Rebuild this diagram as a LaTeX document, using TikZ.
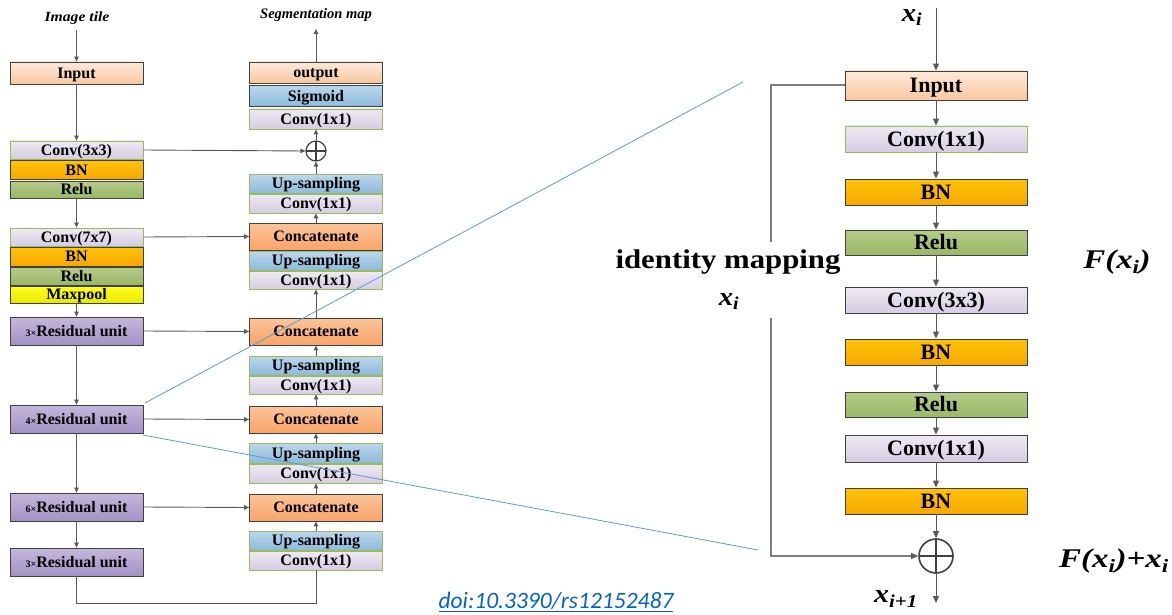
\documentclass[tikz,border=0pt]{standalone}
\usepackage{fontspec}
\usepackage{graphicx}
\setmainfont{Liberation Serif}
\newfontfamily\doifont{Carlito}
\usetikzlibrary{arrows.meta}
\definecolor{peachT}{HTML}{FDEADA}
\definecolor{peachB}{HTML}{F8C7A0}
\definecolor{lavT}{HTML}{EEEAF3}
\definecolor{lavB}{HTML}{D5CCE2}
\definecolor{convbd}{HTML}{9BBB59}
\definecolor{orT}{HTML}{FFC20A}
\definecolor{orB}{HTML}{F7A800}
\definecolor{grT}{HTML}{B5CB8A}
\definecolor{grB}{HTML}{9AB865}
\definecolor{yeT}{HTML}{FFFF20}
\definecolor{yeB}{HTML}{E8E800}
\definecolor{puT}{HTML}{C4B8DB}
\definecolor{puB}{HTML}{A391C4}
\definecolor{caT}{HTML}{FBC49A}
\definecolor{caB}{HTML}{F9A468}
\definecolor{blT}{HTML}{BCD7EC}
\definecolor{blB}{HTML}{8DBADB}
\definecolor{bd}{HTML}{404040}
\definecolor{ln}{HTML}{595959}
\definecolor{idl}{HTML}{7F7F7F}
\definecolor{zoomblue}{HTML}{5B9BD5}
\definecolor{doiblue}{HTML}{0563C1}
\newcommand{\smn}[1]{{\fontsize{10}{10}\selectfont #1×}}
\newcommand{\xs}[1]{{\bfseries\itshape x\textsubscript{#1}}}
\newcommand{\wide}[2]{\scalebox{#1}[1]{#2}}
\tikzset{
  box/.style={draw=bd, line width=0.8pt, inner sep=0pt},
  L/.style={box, minimum width=133pt, text height=10.6pt, text depth=0pt, font=\fontsize{16}{16}\selectfont\bfseries},
  R/.style={box, minimum width=182pt, text height=14.5pt, text depth=0pt, font=\fontsize{22}{22}\selectfont\bfseries},
  peach/.style={top color=peachT, bottom color=peachB},
  lav/.style={top color=lavT, bottom color=lavB, draw=convbd},
  lavg/.style={top color=lavT, bottom color=lavB},
  orng/.style={top color=orT, bottom color=orB},
  grn/.style={top color=grT, bottom color=grB},
  yel/.style={top color=yeT, bottom color=yeB},
  purp/.style={top color=puT, bottom color=puB},
  cat/.style={top color=caT, bottom color=caB},
  blu/.style={top color=blT, bottom color=blB, draw=convbd},
  arr/.style={draw=ln, line width=0.9pt, -{Triangle[length=5pt,width=4.5pt]}},
  arrR/.style={draw=ln, line width=1pt, -{Triangle[length=7pt,width=6pt]}},
  lnk/.style={draw=ln, line width=0.9pt},
  oplus/.style={circle, draw=bd, inner sep=0pt, path picture={\draw[bd, line width=1.3pt] (path picture bounding box.north) -- (path picture bounding box.south) (path picture bounding box.west) -- (path picture bounding box.east);}},
  idline/.style={draw=idl, line width=2pt},
  zoomline/.style={draw=zoomblue, line width=0.8pt},
  lbl/.style={inner sep=0pt}
}
\begin{document}
\begin{tikzpicture}[x=1pt,y=-1pt]
\useasboundingbox (0,0) rectangle (1172,615);
% ---------- left column ----------
\node[lbl, font=\fontsize{14}{14}\selectfont\bfseries\itshape] (imgtile) at (77,18) {\wide{1.12}{Image tile}};
\coordinate (imgtop) at (76.5,30);
\node[L,peach,minimum height=22pt] (inL) at (76.5,73) {Input};
\node[L,lav,minimum height=18pt] (c33) at (76.5,150) {Conv(3x3)};
\node[L,orng,minimum height=19pt] (bn1) at (76.5,170) {BN};
\node[L,grn,minimum height=17pt] (re1) at (76.5,189.5) {Relu};
\node[L,lav,minimum height=18pt] (c77) at (76.5,237) {Conv(7x7)};
\node[L,orng,minimum height=19pt] (bn2) at (76.5,256.5) {BN};
\node[L,grn,minimum height=18pt] (re2) at (76.5,276) {Relu};
\node[L,yel,minimum height=17pt] (mp) at (76.5,294.5) {Maxpool};
\node[L,purp,minimum height=28pt] (r3) at (76.5,331) {\smn{3}Residual unit};
\node[L,purp,minimum height=28pt] (r4) at (76.5,419) {\smn{4}Residual unit};
\node[L,purp,minimum height=28pt] (r6) at (76.5,507) {\smn{6}Residual unit};
\node[L,purp,minimum height=28pt] (r3b) at (76.5,562) {\smn{3}Residual unit};
% ---------- right column ----------
\node[lbl, font=\fontsize{14.5}{14.5}\selectfont\bfseries\itshape] (segmap) at (316,15) {Segmentation map};
\coordinate (segtop) at (316,29);
\node[L,peach,minimum height=21pt] (out) at (316,72.5) {output};
\node[L,blu,draw=bd,minimum height=21pt] (sig) at (316,96) {Sigmoid};
\node[L,lav,minimum height=20pt] (c1) at (316,119) {Conv(1x1)};
\node[oplus, line width=1.2pt, minimum size=20pt] (p1) at (316,151) {};
\node[L,blu,minimum height=19pt] (up1) at (316,183.5) {Up-sampling};
\node[L,lav,minimum height=19pt] (cv1) at (316,203.5) {Conv(1x1)};
\node[L,cat,minimum height=27pt] (cat1) at (316,236.5) {Concatenate};
\node[L,blu,minimum height=19pt] (up2) at (316,260.5) {Up-sampling};
\node[L,lav,minimum height=18pt] (cv2) at (316,280) {Conv(1x1)};
\node[L,cat,minimum height=27pt] (cat2) at (316,331.5) {Concatenate};
\node[L,blu,minimum height=19pt] (up3) at (316,365.5) {Up-sampling};
\node[L,lav,minimum height=18pt] (cv3) at (316,385) {Conv(1x1)};
\node[L,cat,minimum height=27pt] (cat3) at (316,419.5) {Concatenate};
\node[L,blu,minimum height=20pt] (up4) at (316,453) {Up-sampling};
\node[L,lav,minimum height=19pt] (cv4) at (316,473.5) {Conv(1x1)};
\node[L,cat,minimum height=27pt] (cat4) at (316,507.5) {Concatenate};
\node[L,blu,minimum height=19pt] (up5) at (316,540.5) {Up-sampling};
\node[L,lav,minimum height=19pt] (cv5) at (316,560.5) {Conv(1x1)};
\coordinate (botL) at (76.5,603);
\coordinate (botR) at (316,603);
% ---------- left arrows ----------
\draw[arr] (imgtop) -- (inL.north);
\draw[arr] (inL.south) -- (c33.north);
\draw[arr] (re1.south) -- (c77.north);
\draw[arr] (mp.south) -- (r3.north);
\draw[arr] (r3.south) -- (r4.north);
\draw[arr] (r4.south) -- (r6.north);
\draw[arr] (r6.south) -- (r3b.north);
\draw[arr] (out.north) -- (segtop);
\draw[arr] (c33.east) -- (p1.west);
\draw[arr] (p1.north) -- (c1.south);
\draw[arr] (up1.north) -- (p1.south);
\draw[arr] (c77.east) -- (cat1.west);
\draw[arr] (cat1.north) -- (cv1.south);
\draw[arr] (cat2.north) -- (cv2.south);
\draw[arr] (up3.north) -- (cat2.south);
\draw[arr] (cat3.north) -- (cv3.south);
\draw[arr] (up4.north) -- (cat3.south);
\draw[arr] (cat4.north) -- (cv4.south);
\draw[arr] (up5.north) -- (cat4.south);
\draw[arr] (r3.east) -- (cat2.west);
\draw[arr] (r4.east) -- (cat3.west);
\draw[arr] (r6.east) -- (cat4.west);
\draw[lnk] (r3b.south) -- (botL) -- (botR) -- (cv5.south);
% ---------- residual unit ----------
\coordinate (xtop) at (936,8);
\node[lbl, font=\fontsize{26}{26}\selectfont] (xlab) at (912,18) {\wide{1.1}{\xs{i}}};
\node[R,peach,minimum height=29pt] (RIn) at (936,85.5) {Input};
\node[R,lav,minimum height=26pt] (Rc1) at (936,139) {Conv(1x1)};
\node[R,orng,minimum height=26pt] (Rbn1) at (936,192) {BN};
\node[R,grn,minimum height=25pt] (Rre1) at (936,242.5) {Relu};
\node[R,lavg,minimum height=26pt] (Rc3) at (936,300) {Conv(3x3)};
\node[R,orng,minimum height=26pt] (Rbn2) at (936,352) {BN};
\node[R,grn,minimum height=25pt] (Rre2) at (936,404.5) {Relu};
\node[R,lavg,minimum height=27pt] (Rc1b) at (936,448.5) {Conv(1x1)};
\node[R,orng,minimum height=26pt] (Rbn3) at (936,501) {BN};
\node[oplus, line width=1.6pt, minimum size=34pt] (Rp) at (936,556) {};
\coordinate (xbot) at (936,603);
\draw[arrR] (xtop) -- (RIn.north);
\draw[arrR] (RIn.south) -- (Rc1.north);
\draw[arrR] (Rc1.south) -- (Rbn1.north);
\draw[arrR] (Rbn1.south) -- (Rre1.north);
\draw[arrR] (Rre1.south) -- (Rc3.north);
\draw[arrR] (Rc3.south) -- (Rbn2.north);
\draw[arrR] (Rbn2.south) -- (Rre2.north);
\draw[arrR] (Rre2.south) -- (Rc1b.north);
\draw[arrR] (Rc1b.south) -- (Rbn3.north);
\draw[arrR] (Rbn3.south) -- (Rp.north);
\draw[arrR] (Rp.south) -- (xbot);
\coordinate (id1) at (771,85.5);
\coordinate (id2) at (771,242);
\coordinate (id3) at (771,318);
\coordinate (id4) at (771,556);
\draw[idline] (RIn.west) -- (id1) -- (id2);
\draw[idline] (id3) -- (id4) -- ([xshift=-6pt]Rp.west);
\draw[arrR] ([xshift=-8pt]Rp.west) -- (Rp.west);
\node[lbl, font=\fontsize{27}{27}\selectfont\bfseries] (idmap) at (728,262) {\wide{1.14}{identity mapping}};
\node[lbl, font=\fontsize{26}{26}\selectfont] (xmid) at (729,302) {\wide{1.1}{\xs{i}}};
\node[lbl, font=\fontsize{27}{27}\selectfont\bfseries\itshape] (Fx) at (1117,262) {\wide{1.22}{F(x\textsubscript{i})}};
\node[lbl, font=\fontsize{27}{27}\selectfont\bfseries\itshape] (Fxx) at (1114,561) {\wide{1.22}{F(x\textsubscript{i})+x\textsubscript{i}}};
\node[lbl, font=\fontsize{26}{26}\selectfont] (xnext) at (896,599) {\wide{1.15}{\xs{i+1}}};
% ---------- zoom lines ----------
\coordinate (zA) at (145,403);
\coordinate (zB) at (743,82);
\coordinate (zC) at (143,435);
\coordinate (zD) at (758,550);
\draw[zoomline] (zA) -- (zB);
\draw[zoomline] (zC) -- (zD);
% ---------- doi ----------
\node[lbl, font=\fontsize{23.5}{23.5}\doifont\itshape, text=doiblue] (doi) at (556,602) {\underline{doi:10.3390/rs12152487}};
\end{tikzpicture}
\end{document}
